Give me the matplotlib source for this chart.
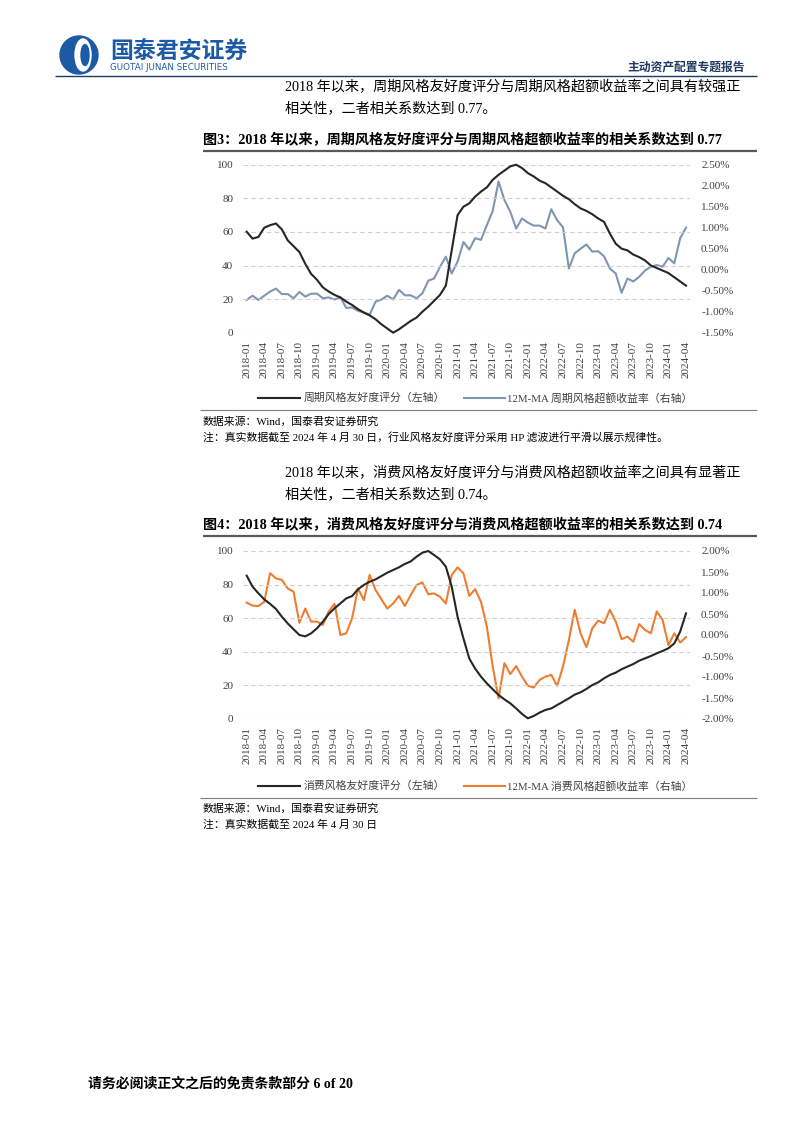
import matplotlib
matplotlib.use("Agg")
import matplotlib.pyplot as plt
from matplotlib.patches import Ellipse, Circle
import pandas as pd

W, H = 802, 1133
CJK = ['Noto Sans CJK SC', 'DejaVu Sans']
MIX = ['Liberation Serif', 'Noto Sans CJK SC']

months = [str(p) for p in pd.period_range('2018-01', '2024-04', freq='M')]
tick_labels = ['2018-01', '2018-04', '2018-07', '2018-10', '2019-01', '2019-04', '2019-07',
               '2019-10', '2020-01', '2020-04', '2020-07', '2020-10', '2021-01', '2021-04',
               '2021-07', '2021-10', '2022-01', '2022-04', '2022-07', '2022-10', '2023-01',
               '2023-04', '2023-07', '2023-10', '2024-01', '2024-04']

# Chart 3: cyclical style
cyc_score = [60.1, 56, 57, 62.5, 64, 65, 61.5, 55, 51.5, 48, 41, 35, 31.5, 27, 24.5, 22.5,
             21, 18.5, 16.5, 14, 12, 10.3, 8, 5, 2.5, 0, 2, 4.5, 7, 9, 12.5, 15.5, 19, 22.5,
             28, 49, 70, 75, 77, 81, 84, 86.5, 91, 94, 96.5, 99, 100, 98, 95, 93, 90.5, 89,
             86.5, 84, 81.5, 79.5, 76.5, 74, 72.5, 70.5, 68, 66, 59, 53, 50, 49, 46.5, 45,
             43, 40, 38.5, 37, 35.5, 33, 30.5, 28]
cyc_excess = [-0.72, -0.62, -0.72, -0.62, -0.52, -0.45, -0.58, -0.58, -0.68, -0.53, -0.64,
              -0.57, -0.57, -0.68, -0.66, -0.71, -0.66, -0.91, -0.90, -0.98, -1.02, -1.07,
              -0.76, -0.71, -0.62, -0.71, -0.48, -0.61, -0.61, -0.68, -0.56, -0.26, -0.21,
              0.07, 0.31, -0.09, 0.19, 0.66, 0.48, 0.75, 0.71, 1.06, 1.40, 2.10, 1.66, 1.38,
              0.98, 1.22, 1.12, 1.05, 1.05, 0.98, 1.44, 1.18, 1.01, 0.03, 0.39, 0.50, 0.60,
              0.43, 0.44, 0.32, 0.03, -0.09, -0.55, -0.21, -0.28, -0.17, -0.02, 0.07, 0.11,
              0.07, 0.28, 0.15, 0.75, 1.00]

# Chart 4: consumer style
con_score = [85.3, 78.8, 74.8, 71.2, 68.5, 65.5, 60.9, 56.9, 53.4, 50, 49.2, 51, 54, 57.9,
             62.5, 65.9, 68.8, 71.8, 73.2, 77.2, 79.8, 81.7, 83.1, 85.1, 87.1, 88.7, 90.3,
             92.3, 93.8, 96.6, 99, 100, 97.6, 95, 90.7, 78.8, 60.9, 48, 36, 30, 25.2, 21.2,
             17.7, 14.3, 11.7, 9.3, 6.3, 3, 0.4, 1.8, 3.8, 5.4, 6.3, 8.3, 10.3, 12.3, 14.5,
             15.9, 17.9, 20.2, 21.8, 24.2, 26.2, 27.6, 29.6, 31.2, 32.7, 34.7, 36.1, 37.5,
             39.1, 40.5, 42.1, 45, 52, 62.9]
con_excess = [0.77, 0.70, 0.69, 0.79, 1.47, 1.35, 1.31, 1.11, 1.03, 0.29, 0.63, 0.32, 0.32,
              0.24, 0.56, 0.74, 0.00, 0.04, 0.40, 1.11, 0.83, 1.43, 1.07, 0.85, 0.63, 0.75,
              0.93, 0.69, 0.95, 1.19, 1.25, 0.97, 0.99, 0.91, 0.75, 1.43, 1.61, 1.47, 0.93,
              1.09, 0.79, 0.20, -0.75, -1.51, -0.67, -0.93, -0.74, -0.99, -1.21, -1.25, -1.07,
              -0.99, -0.95, -1.21, -0.75, -0.12, 0.60, 0.04, -0.29, 0.16, 0.34, 0.28, 0.60,
              0.32, -0.10, -0.04, -0.16, 0.26, 0.12, 0.04, 0.56, 0.36, -0.24, 0.04, -0.18,
              -0.05]

left_ticks = [0, 20, 40, 60, 80, 100]
right_ticks_1 = [-1.5, -1.0, -0.5, 0.0, 0.5, 1.0, 1.5, 2.0, 2.5]
right_ticks_2 = [-2.0, -1.5, -1.0, -0.5, 0.0, 0.5, 1.0, 1.5, 2.0]

fig = plt.figure(figsize=(W / 100, H / 100), dpi=100)
fig.patch.set_facecolor('white')

bg = fig.add_axes([0, 0, 1, 1])
bg.set_xlim(0, W)
bg.set_ylim(H, 0)
bg.axis('off')


def ftext(x, y, s, **kw):
    bg.text(x, y, s, **kw)


def hline(y, x0, x1, color, lw):
    bg.plot([x0, x1], [y, y], color=color, lw=lw, solid_capstyle='butt')


# Header logo
blue = '#1d5aa6'
bg.add_patch(Circle((79, 55), 19, color=blue))
bg.add_patch(Ellipse((83, 55), 16, 32, color='white'))
bg.add_patch(Ellipse((85, 55), 8, 21, color=blue))
ftext(110, 52, '国泰君安证券', family=CJK, fontsize=16.5, fontweight='bold', color=blue,
      va='center', ha='left')
ftext(110, 68, 'GUOTAI JUNAN SECURITIES', family=['DejaVu Sans'], fontsize=6.3, color=blue,
      va='center', ha='left')
ftext(745, 67, '主动资产配置专题报告', family=CJK, fontsize=8.5, fontweight='bold',
      color='#1f3864', va='center', ha='right')
hline(76, 55, 757, '#1f3864', 1.0)

# Paragraph 1
ftext(285, 87, '2018 年以来，周期风格友好度评分与周期风格超额收益率之间具有较强正',
      family=MIX, fontsize=10.2, va='center', ha='left', color='black')
ftext(285, 108, '相关性，二者相关系数达到 0.77。', family=MIX, fontsize=10.2,
      va='center', ha='left', color='black')
ftext(203, 140, '图3：2018 年以来，周期风格友好度评分与周期风格超额收益率的相关系数达到 0.77',
      family=MIX, fontsize=10.2, fontweight='bold', va='center', ha='left', color='black')
hline(151, 203, 757, '#595959', 1.6)

# Paragraph 2
ftext(285, 473, '2018 年以来，消费风格友好度评分与消费风格超额收益率之间具有显著正',
      family=MIX, fontsize=10.2, va='center', ha='left', color='black')
ftext(285, 494, '相关性，二者相关系数达到 0.74。', family=MIX, fontsize=10.2,
      va='center', ha='left', color='black')
ftext(203, 525, '图4：2018 年以来，消费风格友好度评分与消费风格超额收益率的相关系数达到 0.74',
      family=MIX, fontsize=10.2, fontweight='bold', va='center', ha='left', color='black')
hline(535.5, 203, 757, '#595959', 1.6)

# Sources
hline(410, 200, 757, '#7f7f7f', 0.8)
ftext(203, 422, '数据来源：Wind，国泰君安证券研究', family=MIX, fontsize=7.8,
      va='center', ha='left', color='black')
ftext(203, 437, '注：真实数据截至 2024 年 4 月 30 日，行业风格友好度评分采用 HP 滤波进行平滑以展示规律性。',
      family=MIX, fontsize=7.8, va='center', ha='left', color='black')
hline(798, 200, 757, '#7f7f7f', 0.8)
ftext(203, 809, '数据来源：Wind，国泰君安证券研究', family=MIX, fontsize=7.8,
      va='center', ha='left', color='black')
ftext(203, 825, '注：真实数据截至 2024 年 4 月 30 日', family=MIX, fontsize=7.8,
      va='center', ha='left', color='black')

# Footer
ftext(88, 1084, '请务必阅读正文之后的免责条款部分 6 of 20', family=MIX, fontsize=10,
      fontweight='bold', va='center', ha='left', color='black')

x_idx = list(range(len(months)))
tick_pos = [months.index(t) for t in tick_labels]


def make_chart(top, bottom, score, excess, rticks, rcolor, leg1, leg2, leg_y):
    x0, x1 = 243, 690
    ax = fig.add_axes([x0 / W, 1 - bottom / H, (x1 - x0) / W, (bottom - top) / H])
    ax.set_xlim(-0.63, 75.68)
    ax.set_ylim(0, 100)
    for v in left_ticks:
        ax.axhline(v, color='#d0d0d0', lw=0.8, ls=(0, (4, 3)), zorder=0)
    ax.plot(x_idx, score, color='#262626', lw=1.5, zorder=3, clip_on=False)
    ax.set_yticks(left_ticks)
    ax.set_yticklabels([str(v) for v in left_ticks])
    ax.set_xticks(tick_pos)
    ax.set_xticklabels(tick_labels, rotation=90)
    for s in ax.spines.values():
        s.set_visible(False)
    ax.tick_params(axis='both', length=0, labelsize=8, colors='#404040')
    ax.tick_params(axis='y', pad=7)
    ax.tick_params(axis='x', pad=6)
    for lab in ax.get_xticklabels() + ax.get_yticklabels():
        lab.set_family('Liberation Serif')
    ax2 = ax.twinx()
    ax2.set_ylim(rticks[0], rticks[-1])
    ax2.plot(x_idx, excess, color=rcolor, lw=1.5, zorder=2, clip_on=False)
    ax2.set_yticks(rticks)
    ax2.set_yticklabels([f'{v:.2f}%' for v in rticks])
    for s in ax2.spines.values():
        s.set_visible(False)
    ax2.tick_params(axis='y', length=0, labelsize=8, colors='#404040', pad=8)
    for lab in ax2.get_yticklabels():
        lab.set_family('Liberation Serif')
    ax.set_zorder(ax2.get_zorder() + 1)
    ax.patch.set_visible(False)
    # legend
    bg.plot([258, 300], [leg_y, leg_y], color='#262626', lw=1.5)
    ftext(304, leg_y, leg1, family=MIX, fontsize=7.8, va='center', ha='left', color='#404040')
    bg.plot([464, 505], [leg_y, leg_y], color=rcolor, lw=1.5)
    ftext(507, leg_y, leg2, family=MIX, fontsize=7.8, va='center', ha='left', color='#404040')


make_chart(164.7, 332.7, cyc_score, cyc_excess, right_ticks_1, '#7f96b2',
           '周期风格友好度评分（左轴）', '12M-MA 周期风格超额收益率（右轴）', 398)
make_chart(551, 719, con_score, con_excess, right_ticks_2, '#ed7d31',
           '消费风格友好度评分（左轴）', '12M-MA 消费风格超额收益率（右轴）', 786)

fig.savefig('out.png', dpi=100, facecolor='white')
